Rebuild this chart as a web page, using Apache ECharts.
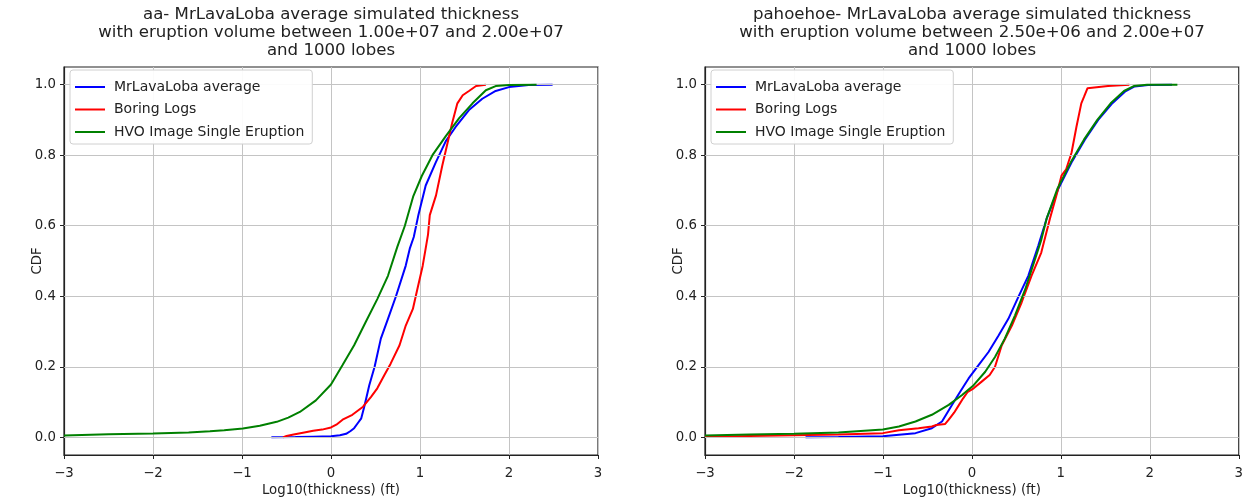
<!DOCTYPE html>
<html>
<head>
<meta charset="utf-8">
<script src="https://cdn.jsdelivr.net/npm/echarts@6/dist/echarts.min.js"></script>
<style>
html,body{margin:0;padding:0;background:#fff;}
#chart{width:1246px;height:502px;}
</style>
</head>
<body>
<div id="chart"></div>
<script>
// ---- data (log10 thickness, CDF) ----
const seriesNames = ['MrLavaLoba average', 'Boring Logs', 'HVO Image Single Eruption'];
const xTicks = [-3, -2, -1, 0, 1, 2, 3];
const yTicks = [0, 0.2, 0.4, 0.6, 0.8, 1.0];
const leftTitle = ['aa- MrLavaLoba average simulated thickness', 'with eruption volume between 1.00e+07 and 2.00e+07', 'and 1000 lobes'];
const rightTitle = ['pahoehoe- MrLavaLoba average simulated thickness', 'with eruption volume between 2.50e+06 and 2.00e+07', 'and 1000 lobes'];

const aaModel = [[-0.67,0],[-0.4,0.001],[-0.2,0.002],[0,0.003],[0.1,0.006],[0.17,0.01],[0.22,0.018],[0.26,0.026],[0.3,0.04],[0.34,0.054],[0.37,0.083],[0.4,0.115],[0.43,0.148],[0.49,0.2],[0.56,0.28],[0.64,0.336],[0.73,0.40],[0.84,0.487],[0.885,0.535],[0.93,0.568],[0.98,0.628],[1.064,0.714],[1.176,0.779],[1.29,0.84],[1.40,0.88],[1.55,0.928],[1.70,0.96],[1.85,0.982],[2.0,0.993],[2.22,0.999],[2.49,1.0]];
const aaLogs = [[-0.54,0.0],[-0.5,0.004],[-0.42,0.008],[-0.3,0.014],[-0.2,0.019],[-0.1,0.022],[0.0,0.028],[0.06,0.036],[0.13,0.05],[0.24,0.064],[0.36,0.087],[0.45,0.115],[0.52,0.139],[0.6,0.177],[0.67,0.209],[0.77,0.261],[0.84,0.317],[0.92,0.364],[0.97,0.42],[1.03,0.486],[1.06,0.53],[1.09,0.575],[1.11,0.63],[1.18,0.686],[1.25,0.77],[1.31,0.835],[1.36,0.89],[1.42,0.947],[1.48,0.97],[1.55,0.982],[1.63,0.996],[1.74,1.0]];
const aaHVO = [[-3,0.005],[-2.5,0.009],[-2,0.011],[-1.6,0.014],[-1.36,0.017],[-1.2,0.02],[-0.99,0.025],[-0.8,0.033],[-0.61,0.044],[-0.48,0.056],[-0.35,0.072],[-0.17,0.105],[0,0.15],[0.13,0.205],[0.26,0.261],[0.39,0.327],[0.52,0.392],[0.64,0.458],[0.745,0.54],[0.83,0.60],[0.925,0.684],[1.02,0.741],[1.14,0.80],[1.29,0.854],[1.44,0.905],[1.59,0.947],[1.74,0.984],[1.85,0.996],[2.0,0.999],[2.31,1.0]];

const phModel = [[-1.87,0],[-1.5,0.001],[-1.0,0.003],[-0.82,0.0075],[-0.634,0.012],[-0.45,0.026],[-0.336,0.045],[-0.224,0.092],[-0.13,0.13],[-0.037,0.167],[0.075,0.205],[0.187,0.242],[0.3,0.289],[0.41,0.336],[0.52,0.397],[0.634,0.458],[0.746,0.543],[0.84,0.62],[0.97,0.704],[1.12,0.779],[1.27,0.844],[1.42,0.90],[1.57,0.945],[1.72,0.98],[1.83,0.995],[1.98,0.999],[2.25,1.0]];
const phLogs = [[-3,0.002],[-2.5,0.004],[-2,0.006],[-1.5,0.008],[-1,0.012],[-0.82,0.02],[-0.6,0.026],[-0.45,0.031],[-0.4,0.035],[-0.3,0.038],[-0.26,0.05],[-0.2,0.07],[-0.15,0.09],[-0.1,0.11],[-0.05,0.128],[0.02,0.139],[0.11,0.158],[0.2,0.177],[0.26,0.2],[0.336,0.261],[0.45,0.317],[0.56,0.383],[0.67,0.458],[0.78,0.524],[0.877,0.62],[0.95,0.686],[1.007,0.742],[1.06,0.76],[1.12,0.807],[1.175,0.88],[1.23,0.947],[1.26,0.965],[1.30,0.99],[1.53,0.996],[1.77,1.0]];
const phHVO = [[-3,0.005],[-2.5,0.008],[-2,0.01],[-1.5,0.014],[-1,0.022],[-0.82,0.031],[-0.634,0.045],[-0.45,0.064],[-0.26,0.092],[-0.11,0.12],[0.02,0.148],[0.15,0.186],[0.26,0.228],[0.37,0.28],[0.485,0.346],[0.6,0.42],[0.71,0.505],[0.78,0.56],[0.84,0.62],[0.96,0.704],[1.11,0.779],[1.26,0.844],[1.41,0.90],[1.56,0.947],[1.71,0.982],[1.82,0.996],[1.97,1.0],[2.31,1.0]];

// ---- styling / layout ----
const FONT = 'DejaVu Sans';
const TXT = '#222';
const colors = ['#0000ff', '#ff0000', '#008000'];
const grids = [
  {left: 64, top: 67, width: 534, height: 390},
  {left: 705, top: 67, width: 534, height: 390}
];
const fmt = v => (v < 0 ? '\u2212' + Math.abs(v) : String(v));

function xAxis(i) {
  return {
    type: 'value', gridIndex: i, min: -3, max: 3, interval: 1,
    name: 'Log10(thickness) (ft)', nameLocation: 'middle', nameGap: 29, nameMoveOverlap: false,
    nameTextStyle: {fontFamily: FONT, fontSize: 13.3, color: TXT},
    axisLine: {show: true, onZero: false, lineStyle: {color: '#222', width: 1.2}},
    axisTick: {show: true, inside: false, length: 4, lineStyle: {color: '#222'}},
    axisLabel: {show: true, margin: 12, fontFamily: FONT, fontSize: 13.3, color: TXT, formatter: v => fmt(v)},
    splitLine: {show: true, lineStyle: {color: '#c4c4c4', width: 1}}
  };
}
function yAxis(i) {
  return {
    type: 'value', gridIndex: i, min: -0.05, max: 1.05,
    name: 'CDF', nameLocation: 'middle', nameGap: 20, nameRotate: 90, nameMoveOverlap: false,
    nameTextStyle: {fontFamily: FONT, fontSize: 13.3, color: TXT},
    axisLine: {show: true, onZero: false, lineStyle: {color: '#222', width: 1.2}},
    axisTick: {show: true, inside: false, length: 4, customValues: yTicks, lineStyle: {color: '#222'}},
    axisLabel: {show: true, margin: 8, fontFamily: FONT, fontSize: 13.3, color: TXT, customValues: yTicks, formatter: v => v.toFixed(1)},
    splitLine: {show: false}
  };
}
function lineSeries(name, data, idx, gi) {
  return {
    type: 'line', name: name, data: data, xAxisIndex: gi, yAxisIndex: gi,
    showSymbol: false, symbol: 'none', smooth: false, animation: false,
    lineStyle: {color: colors[idx], width: 2}, itemStyle: {color: colors[idx]},
    z: 3 + idx
  };
}
function gridLines(gi) {
  // y grid lines at tick values, drawn through the y scale
  return {
    type: 'line', data: [], xAxisIndex: gi, yAxisIndex: gi, silent: true, z: 1,
    markLine: {silent: true, symbol: 'none', label: {show: false}, animation: false,
      lineStyle: {color: '#c4c4c4', width: 1, type: 'solid'},
      data: yTicks.map(v => ({yAxis: v}))}
  };
}
function titleGraphic(lines, cx) {
  return lines.map((t, k) => ({
    type: 'text', x: cx, y: 15 + k * 18, z: 20,
    style: {text: t, fill: TXT, font: '16.6px "' + FONT + '"', textAlign: 'center', textVerticalAlign: 'middle'}
  }));
}
function legend(gi, left) {
  return {
    orient: 'vertical', left: left, top: 70, data: seriesNames, z: 20,
    icon: 'rect', itemWidth: 30, itemHeight: 2, itemGap: 8.5,
    padding: [10, 8, 5, 5], backgroundColor: 'rgba(255,255,255,0.92)',
    borderColor: '#d0d0d0', borderWidth: 1, borderRadius: 3,
    textStyle: {fontFamily: FONT, fontSize: 14, color: TXT, padding: [0, 0, 0, 4]},
    selectedMode: false
  };
}

const chart = echarts.init(document.getElementById('chart'), null, {renderer: 'canvas'});
chart.setOption({
  animation: false,
  backgroundColor: '#fff',
  grid: grids.map(g => Object.assign({show: true, borderColor: '#222', borderWidth: 1.2, backgroundColor: 'transparent', containLabel: false}, g)),
  xAxis: [xAxis(0), xAxis(1)],
  yAxis: [yAxis(0), yAxis(1)],
  legend: [legend(0, 70), legend(1, 711)],
  graphic: [].concat(titleGraphic(leftTitle, 331), titleGraphic(rightTitle, 972)),
  series: [
    gridLines(0), gridLines(1),
    lineSeries(seriesNames[0], aaModel, 0, 0),
    lineSeries(seriesNames[1], aaLogs, 1, 0),
    lineSeries(seriesNames[2], aaHVO, 2, 0),
    lineSeries(seriesNames[0], phModel, 0, 1),
    lineSeries(seriesNames[1], phLogs, 1, 1),
    lineSeries(seriesNames[2], phHVO, 2, 1)
  ]
});
</script>
</body>
</html>
